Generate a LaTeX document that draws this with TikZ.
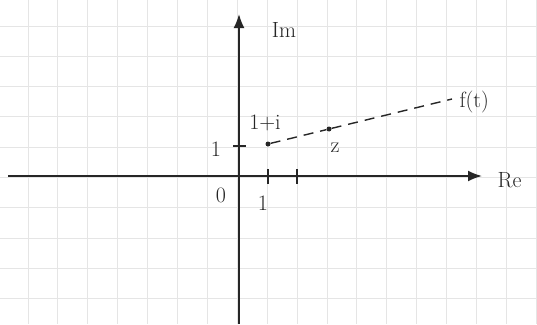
\documentclass[tikz,border=0pt]{standalone}
\usetikzlibrary{arrows.meta}
\begin{document}
\begin{tikzpicture}[x=1pt,y=-1pt,
  lbl/.style={font=\fontsize{22}{24}\selectfont,text=black!85},
  dot/.style={circle,fill=black!85,inner sep=0pt,minimum size=5pt},
  axis/.style={black!85,line width=1.8pt,-{Latex[length=14pt,width=11pt]}}]
\useasboundingbox (0,0) rectangle (537,324);
\fill[white] (0,0) rectangle (537,324);
% grid paper
\foreach \i in {0,...,17}
  \draw[black!10,line width=1pt] ({28+29.9*\i},0) -- ({28+29.9*\i},324);
\foreach \j in {0,...,9}
  \draw[black!10,line width=1pt] (0,{26+30.3*\j}) -- (537,{26+30.3*\j});
% axes
\coordinate (west) at (8,176);
\coordinate (east) at (482,176);
\coordinate (south) at (239,324);
\coordinate (north) at (239,14);
\draw[axis] (west) -- (east);
\draw[axis] (south) -- (north);
\node[lbl,anchor=west] (re) at (494,180) {Re};
\node[lbl] (im) at (284,30) {Im};
% ticks
\draw[black!85,line width=1.6pt] (268,169) -- (268,184);
\draw[black!85,line width=1.6pt] (297,169) -- (297,184);
\draw[black!85,line width=1.6pt] (233,146) -- (246,146);
\node[lbl] (zero) at (221,195) {0};
\node[lbl] (one) at (263,203) {1};
\node[lbl] (onei) at (216,149) {1};
% points
\node[dot] (p) at (268,144) {};
\node[dot] (z) at (329,129) {};
\coordinate (fend) at (452,99);
\node[lbl] (pl) at (265,123) {1+i};
\node[lbl] (zl) at (335,148) {z};
\node[lbl,anchor=west] (ft) at (456,102) {f(t)};
\draw[black!85,line width=1.4pt,dash pattern=on 10pt off 7pt] (p) -- (z) -- (fend);
\end{tikzpicture}
\end{document}
